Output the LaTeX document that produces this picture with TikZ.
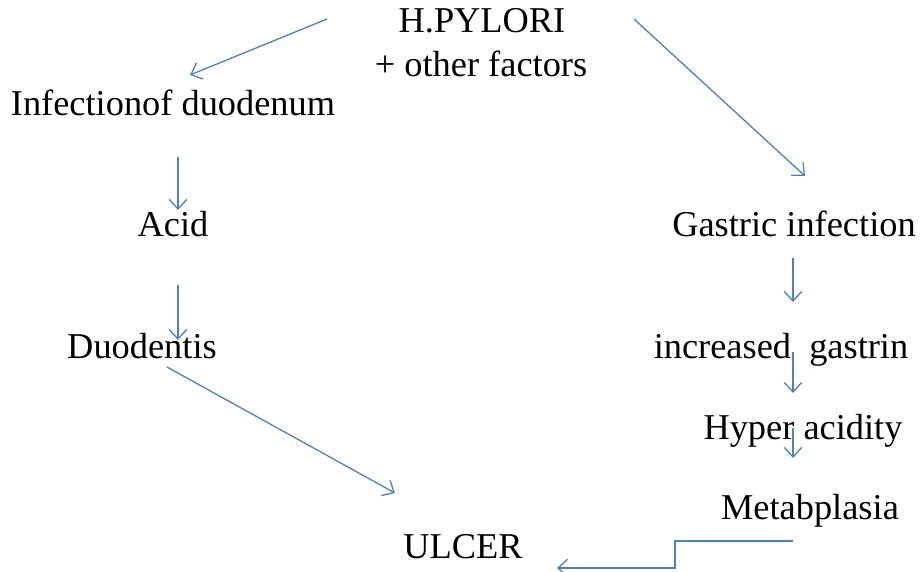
\documentclass[tikz,border=0pt]{standalone}
\usepackage{fontspec}
\setmainfont{Liberation Serif}
\usetikzlibrary{arrows.meta}
\definecolor{arrowblue}{RGB}{79,129,189}

\begin{document}
\begin{tikzpicture}[x=0.02cm,y=-0.02cm]
\useasboundingbox (0,0) rectangle (921,572);
\begin{scope}[every node/.style={anchor=base,inner sep=0pt,font=\fontsize{20.7}{26}\selectfont}]
    \node (hp)   at (482,32)  {H.PYLORI};
    \node (hpb)  at (481,76)  {+ other factors};
    \node (inf)  at (173,115) {Infectionof duodenum};
    \node (acid) at (173,236) {Acid};
    \node (duo)  at (142,358) {Duodentis};
    \node (gas)  at (794,236) {Gastric infection};
    \node (inc)  at (781,358) {increased~~gastrin};
    \node (hyp)  at (803,439) {Hyper acidity};
    \node (met)  at (810,519) {Metabplasia};
    \node (ulc)  at (463,558) {ULCER};
\end{scope}
\begin{scope}[every edge/.style={draw=arrowblue,line width=0.75pt,-{Straight Barb[length=5.5pt,width=10pt]}}]
    \coordinate (hpl) at (327,19);  \coordinate (infT) at (190,75);
    \coordinate (hpr) at (634,19);  \coordinate (gasT) at (805,176);
    \coordinate (infB) at (178,157); \coordinate (acidT) at (178,210);
    \coordinate (acidB) at (178,285); \coordinate (duoT) at (178,340);
    \coordinate (duoB) at (167,367); \coordinate (ulcT) at (395,493);
    \coordinate (gasB) at (793,258); \coordinate (incT) at (793,302);
    \coordinate (incB) at (793,352); \coordinate (hypT) at (793,393);
    \coordinate (hypB) at (793,428); \coordinate (metT) at (793,458);
    \coordinate (metB) at (793,541); \coordinate (ulcR) at (557,568);
    \path (hpl) edge (infT);
    \path (hpr) edge (gasT);
    \path (infB) edge (acidT);
    \path (acidB) edge (duoT);
    \path (duoB) edge (ulcT);
    \path (gasB) edge (incT);
    \path (incB) edge (hypT);
    \path (hypB) edge (metT);
    \path (metB) edge[to path={-| (675,554) |- (\tikztotarget)}] (ulcR);
\end{scope}
\end{tikzpicture}
\end{document}
